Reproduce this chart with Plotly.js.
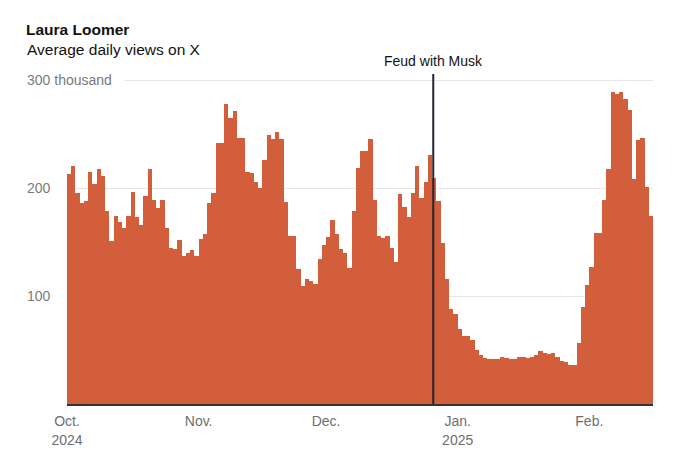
<!DOCTYPE html>
<html>
<head>
<meta charset="utf-8">
<script src="https://cdn.plot.ly/plotly-3.0.1.min.js"></script>
<style>
  html, body { margin: 0; padding: 0; background: #fff; }
  #chart { width: 680px; height: 464px; }
</style>
</head>
<body>
<div id="chart"></div>
<script>
// ---- Data (thousands of average daily views on X), one bar per day from Oct 1, 2024 ----
const startDate = '2024-10-01';
const dailyViews = [
  213, 221, 196, 186, 188, 215, 204, 218, 211, 179,
  151, 174, 169, 163, 174, 197, 173, 166, 193, 218,
  189, 182, 189, 163, 145, 144, 152, 137, 140, 143,
  137, 153, 158, 186, 196, 242, 242, 278, 265, 272,
  247, 247, 215, 214, 206, 200, 226, 249, 246, 252,
  246, 187, 156, 156, 125, 109, 116, 114, 111, 134,
  147, 155, 171, 158, 144, 140, 126, 179, 219, 235,
  235, 246, 189, 156, 154, 156, 145, 132, 195, 183,
  173, 196, 221, 191, 206, 231, 210, 188, 149, 116,
  88, 83, 70, 63, 63, 59, 50, 45, 43, 42,
  42, 42, 44, 43, 42, 42, 44, 44, 43, 44,
  45, 49, 47, 46, 47, 44, 40, 39, 36, 36,
  57, 90, 110, 127, 159, 159, 189, 218, 289, 287,
  289, 283, 273, 209, 245, 247, 201, 174
];

// Tick labels
const xTickVals = ['2024-10-01', '2024-11-01', '2024-12-01', '2025-01-01', '2025-02-01'];
const xTickText = ['Oct.<br>2024', 'Nov.', 'Dec.', 'Jan.<br>2025', 'Feb.'];
const yTickVals = [100, 200, 300];
const yTickText = ['100', '200', '300 thousand'];

// Event marker
const eventDate = '2024-12-26 06:00';
const eventLabel = 'Feud with Musk';

// ---- Build category dates (consecutive days) ----
function dayString(i) {
  const d = new Date(startDate + 'T00:00:00Z');
  d.setUTCDate(d.getUTCDate() + i);
  return d.toISOString().slice(0, 10);
}
const dates = dailyViews.map((_, i) => dayString(i));
const endDate = dayString(dailyViews.length);

const DAY_MS = 86400000;
const FONT = 'Liberation Sans, Arial, Helvetica, sans-serif';

const PLOT_L = 67, PLOT_R = 27, PLOT_T = 74, PLOT_B = 60;
const plotW = 680 - PLOT_L - PLOT_R;
const plotH = 464 - PLOT_T - PLOT_B;
const pxToPaperX = px => (px - PLOT_L) / plotW;
const pxToPaperY = py => (464 - PLOT_B - py) / plotH;

const trace = {
  type: 'bar',
  x: dates,
  y: dailyViews,
  width: DAY_MS,
  offset: 0,
  marker: { color: '#d35e3b', line: { width: 0 } },
  hoverinfo: 'skip'
};

const yLabelAnns = yTickVals.map((v, i) => {
  const isTop = i === yTickVals.length - 1;
  return {
    xref: 'paper', yref: 'y',
    x: isTop ? pxToPaperX(23) : pxToPaperX(26),
    y: v,
    xanchor: 'left', yanchor: 'middle',
    text: yTickText[i],
    showarrow: false,
    align: 'left',
    font: { family: FONT, size: 14, color: '#7a7a7a' },
    bgcolor: isTop ? '#ffffff' : 'rgba(0,0,0,0)',
    borderpad: isTop ? 3 : 0,
    width: isTop ? 94 : null
  };
});

const layout = {
  width: 680,
  height: 464,
  margin: { l: PLOT_L, r: PLOT_R, t: PLOT_T, b: PLOT_B, pad: 0 },
  paper_bgcolor: '#ffffff',
  plot_bgcolor: '#ffffff',
  bargap: 0,
  showlegend: false,
  font: { family: FONT, color: '#121212' },
  title: {
    text: '<b>Laura Loomer</b>',
    font: { family: FONT, size: 15.5, color: '#121212' },
    xref: 'container', yref: 'container',
    x: 26 / 680, xanchor: 'left',
    y: 1 - 30 / 464, yanchor: 'middle',
    pad: { t: 0, b: 0, l: 0, r: 0 }
  },
  xaxis: {
    type: 'date',
    range: [startDate, endDate],
    tickvals: xTickVals,
    ticktext: xTickText,
    tickfont: { family: FONT, size: 14, color: '#6e6e6e' },
    ticklabelstandoff: 4,
    showgrid: false,
    zeroline: false,
    showline: true,
    linecolor: '#333333',
    linewidth: 1.5,
    ticks: '',
    fixedrange: true
  },
  yaxis: {
    range: [0, 306],
    tickvals: yTickVals,
    showticklabels: false,
    showgrid: true,
    gridcolor: '#e6e6e6',
    gridwidth: 1,
    zeroline: false,
    showline: false,
    ticks: '',
    fixedrange: true
  },
  shapes: [{
    type: 'line',
    xref: 'x', yref: 'paper',
    x0: eventDate, x1: eventDate,
    y0: 0, y1: 1,
    line: { color: '#1e2733', width: 2 }
  }],
  annotations: [
    {
      xref: 'paper', yref: 'paper',
      x: pxToPaperX(24.5), y: pxToPaperY(49.5),
      xanchor: 'left', yanchor: 'middle',
      text: 'Average daily views on X',
      showarrow: false,
      font: { family: FONT, size: 15.5, color: '#121212' }
    },
    {
      xref: 'x', yref: 'paper',
      x: eventDate, y: 1,
      xanchor: 'center', yanchor: 'bottom',
      yshift: 3,
      text: eventLabel,
      showarrow: false,
      font: { family: FONT, size: 14, color: '#121212' }
    }
  ].concat(yLabelAnns)
};

Plotly.newPlot('chart', [trace], layout, { staticPlot: true, displayModeBar: false, responsive: false });
</script>
</body>
</html>
